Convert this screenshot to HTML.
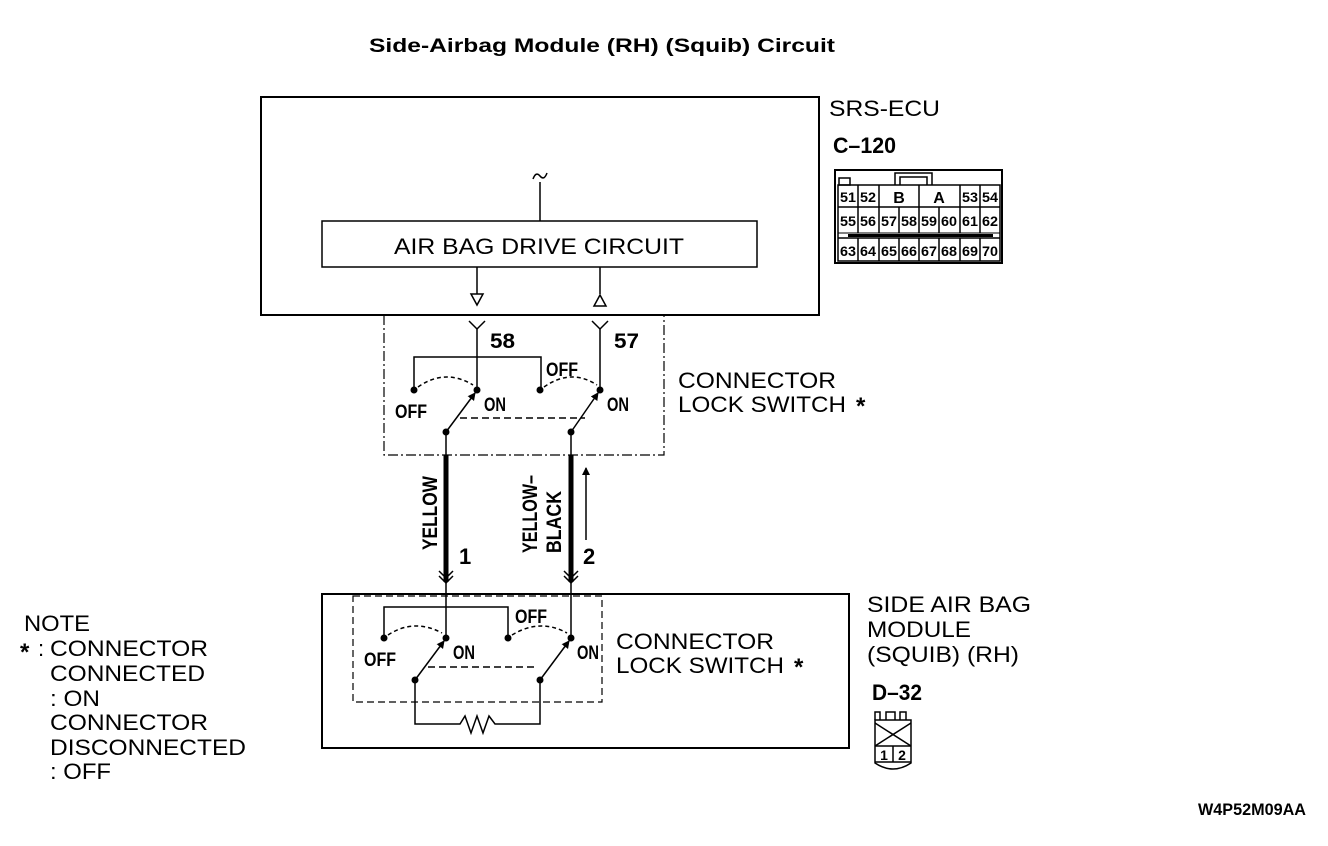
<!DOCTYPE html>
<html><head><meta charset="utf-8"><style>
html,body{margin:0;padding:0;background:#fff;}
svg{display:block;}
text{font-family:"Liberation Sans",sans-serif;fill:#000;}
.r{font-size:22px;}
.b{font-weight:bold;}
</style></head><body>
<svg width="1328" height="846" viewBox="0 0 1328 846" xmlns="http://www.w3.org/2000/svg">
<defs>
<marker id="ah" markerWidth="8" markerHeight="8" refX="7" refY="4" orient="auto" markerUnits="userSpaceOnUse"><path d="M0,0 L8,4 L0,8 Z" fill="#000"/></marker>
</defs>
<text x="602" y="52" text-anchor="middle" class="b" font-size="19" textLength="466" lengthAdjust="spacingAndGlyphs">Side-Airbag Module (RH) (Squib) Circuit</text>

<rect x="261" y="97" width="558" height="218" fill="none" stroke="#000" stroke-width="2"/>
<path d="M533,179 q3,-8 7,-3 q4,5 7,-3" fill="none" stroke="#000" stroke-width="1.5"/>
<line x1="540" y1="182" x2="540" y2="221" stroke="#000" stroke-width="1.5"/>
<rect x="322" y="221" width="435" height="46" fill="none" stroke="#000" stroke-width="1.5"/>
<text x="539" y="254" text-anchor="middle" class="r" textLength="290" lengthAdjust="spacingAndGlyphs">AIR BAG DRIVE CIRCUIT</text>
<g stroke="#000" stroke-width="1.5" fill="none">
<line x1="477" y1="267" x2="477" y2="294"/>
<path d="M471,294 L483,294 L477,305 Z"/>
<line x1="600" y1="267" x2="600" y2="294"/>
<path d="M594,306 L606,306 L600,295 Z"/>
</g>
<path d="M384,315 L384,455 L664,455 L664,315" fill="none" stroke="#000" stroke-width="1.2" stroke-dasharray="10,3,2,3"/>

<g stroke="#000" stroke-width="1.5" fill="none">
<path d="M469,321 L477,329 L485,321"/><line x1="477" y1="329" x2="477" y2="390"/>
<path d="M592,321 L600,329 L608,321"/><line x1="600" y1="329" x2="600" y2="390"/>
<path d="M414,390 L414,357 L541,357 L541,390"/>
<path d="M418,387 Q445,368 473,385" stroke-dasharray="4,3"/>
<path d="M544,387 Q571,368 597,385" stroke-dasharray="4,3"/>
<line x1="446" y1="432" x2="475" y2="393" marker-end="url(#ah)"/>
<line x1="571" y1="432" x2="598" y2="393" marker-end="url(#ah)"/>
<line x1="460" y1="418" x2="585" y2="418" stroke-dasharray="7,4"/>
<line x1="446" y1="432" x2="446" y2="455"/>
<line x1="571" y1="432" x2="571" y2="455"/>
</g>
<g fill="#000">
<circle cx="414" cy="390" r="3.5"/><circle cx="477" cy="390" r="3.5"/>
<circle cx="540" cy="390" r="3.5"/><circle cx="600" cy="390" r="3.5"/>
<circle cx="446" cy="432" r="3.5"/><circle cx="571" cy="432" r="3.5"/>
</g>
<g class="b" font-size="21">
<text x="490" y="348" textLength="25" lengthAdjust="spacingAndGlyphs">58</text>
<text x="614" y="348" textLength="25" lengthAdjust="spacingAndGlyphs">57</text>
<text x="546" y="376" font-size="19" textLength="32" lengthAdjust="spacingAndGlyphs">OFF</text>
<text x="395" y="418" font-size="19" textLength="32" lengthAdjust="spacingAndGlyphs">OFF</text>
<text x="484" y="411" font-size="19" textLength="22" lengthAdjust="spacingAndGlyphs">ON</text>
<text x="607" y="411" font-size="19" textLength="22" lengthAdjust="spacingAndGlyphs">ON</text>
</g>
<text x="678" y="388" class="r" textLength="158" lengthAdjust="spacingAndGlyphs">CONNECTOR</text>
<text x="678" y="412" class="r" textLength="168" lengthAdjust="spacingAndGlyphs">LOCK SWITCH</text>
<text x="856" y="414" class="b" font-size="24">*</text>

<line x1="446" y1="455" x2="446" y2="582" stroke="#000" stroke-width="5"/>
<line x1="571" y1="455" x2="571" y2="582" stroke="#000" stroke-width="5"/>
<g stroke="#000" stroke-width="1.5" fill="none">
<path d="M439,571 L446,578 L453,571 M439,576 L446,583 L453,576"/>
<path d="M564,571 L571,578 L578,571 M564,576 L571,583 L578,576"/>
<line x1="446" y1="582" x2="446" y2="594"/><line x1="571" y1="582" x2="571" y2="594"/>
<line x1="586" y1="540" x2="586" y2="468" marker-end="url(#ah)"/>
</g>
<text transform="translate(437,550) rotate(-90)" class="b" font-size="21" textLength="74" lengthAdjust="spacingAndGlyphs">YELLOW</text>
<text transform="translate(537,553) rotate(-90)" class="b" font-size="21" textLength="78" lengthAdjust="spacingAndGlyphs">YELLOW–</text>
<text transform="translate(561,553) rotate(-90)" class="b" font-size="21" textLength="62" lengthAdjust="spacingAndGlyphs">BLACK</text>
<text x="459" y="564" class="b" font-size="22">1</text>
<text x="583" y="564" class="b" font-size="22">2</text>

<rect x="322" y="594" width="527" height="154" fill="none" stroke="#000" stroke-width="2"/>
<rect x="353" y="596" width="249" height="106" fill="none" stroke="#000" stroke-width="1.2" stroke-dasharray="7,4"/>
<g stroke="#000" stroke-width="1.5" fill="none">
<line x1="446" y1="594" x2="446" y2="638"/>
<line x1="571" y1="594" x2="571" y2="638"/>
<path d="M384,638 L384,607 L508,607 L508,638"/>
<path d="M388,635 Q414,618 442,633" stroke-dasharray="4,3"/>
<path d="M512,635 Q540,618 567,633" stroke-dasharray="4,3"/>
<line x1="415" y1="680" x2="444" y2="641" marker-end="url(#ah)"/>
<line x1="540" y1="680" x2="569" y2="641" marker-end="url(#ah)"/>
<line x1="428" y1="667" x2="538" y2="667" stroke-dasharray="7,4"/>
<path d="M415,680 L415,724 L460,724 L465,716 L471,733 L477,716 L483,733 L489,716 L495,724 L540,724 L540,680"/>
</g>
<g fill="#000">
<circle cx="384" cy="638" r="3.5"/><circle cx="446" cy="638" r="3.5"/>
<circle cx="508" cy="638" r="3.5"/><circle cx="571" cy="638" r="3.5"/>
<circle cx="415" cy="680" r="3.5"/><circle cx="540" cy="680" r="3.5"/>
</g>
<g class="b" font-size="19">
<text x="515" y="623" textLength="32" lengthAdjust="spacingAndGlyphs">OFF</text>
<text x="364" y="666" textLength="32" lengthAdjust="spacingAndGlyphs">OFF</text>
<text x="453" y="659" textLength="22" lengthAdjust="spacingAndGlyphs">ON</text>
<text x="577" y="659" textLength="22" lengthAdjust="spacingAndGlyphs">ON</text>
</g>
<text x="616" y="649" class="r" textLength="158" lengthAdjust="spacingAndGlyphs">CONNECTOR</text>
<text x="616" y="673" class="r" textLength="168" lengthAdjust="spacingAndGlyphs">LOCK SWITCH</text>
<text x="794" y="675" class="b" font-size="24">*</text>

<text x="829" y="116" class="r" textLength="111" lengthAdjust="spacingAndGlyphs">SRS-ECU</text>
<text x="833" y="153" class="b" font-size="22" textLength="63" lengthAdjust="spacingAndGlyphs">C–120</text>
<text x="867" y="612" class="r" textLength="164" lengthAdjust="spacingAndGlyphs">SIDE AIR BAG</text>
<text x="867" y="637" class="r" textLength="104" lengthAdjust="spacingAndGlyphs">MODULE</text>
<text x="867" y="662" class="r" textLength="152" lengthAdjust="spacingAndGlyphs">(SQUIB) (RH)</text>
<text x="872" y="700" class="b" font-size="22" textLength="50" lengthAdjust="spacingAndGlyphs">D–32</text>

<g stroke="#000" fill="none" stroke-width="1.5">
<rect x="835" y="170" width="167" height="93" stroke-width="2"/>
<rect x="839" y="178" width="11" height="7"/>
<path d="M895,185 L895,173 L932,173 L932,185 M900,185 L900,177 L927,177 L927,185"/>
<rect x="838" y="185" width="162" height="76"/>
<line x1="838" y1="207" x2="1000" y2="207"/>
<line x1="838" y1="233" x2="1000" y2="233" stroke-width="1"/>
<line x1="838" y1="238" x2="1000" y2="238"/>
<path d="M858,185 V207 M879,185 V207 M919,185 V207 M960,185 V207 M980,185 V207"/>
<path d="M858,207 V233 M879,207 V233 M899,207 V233 M919,207 V233 M939,207 V233 M960,207 V233 M980,207 V233"/>
<path d="M858,238 V261 M879,238 V261 M899,238 V261 M919,238 V261 M939,238 V261 M960,238 V261 M980,238 V261"/>
</g>
<rect x="848" y="234" width="145" height="3" fill="#000"/>
<g class="b" font-size="14" text-anchor="middle">
<text x="848" y="202" textLength="16" lengthAdjust="spacingAndGlyphs">51</text>
<text x="868" y="202" textLength="16" lengthAdjust="spacingAndGlyphs">52</text>
<text x="899" y="203" font-size="16">B</text>
<text x="939" y="203" font-size="16">A</text>
<text x="970" y="202" textLength="16" lengthAdjust="spacingAndGlyphs">53</text>
<text x="990" y="202" textLength="16" lengthAdjust="spacingAndGlyphs">54</text>
<text x="848" y="226" textLength="16" lengthAdjust="spacingAndGlyphs">55</text>
<text x="868" y="226" textLength="16" lengthAdjust="spacingAndGlyphs">56</text>
<text x="889" y="226" textLength="16" lengthAdjust="spacingAndGlyphs">57</text>
<text x="909" y="226" textLength="16" lengthAdjust="spacingAndGlyphs">58</text>
<text x="929" y="226" textLength="16" lengthAdjust="spacingAndGlyphs">59</text>
<text x="949" y="226" textLength="16" lengthAdjust="spacingAndGlyphs">60</text>
<text x="970" y="226" textLength="16" lengthAdjust="spacingAndGlyphs">61</text>
<text x="990" y="226" textLength="16" lengthAdjust="spacingAndGlyphs">62</text>
<text x="848" y="256" textLength="16" lengthAdjust="spacingAndGlyphs">63</text>
<text x="868" y="256" textLength="16" lengthAdjust="spacingAndGlyphs">64</text>
<text x="889" y="256" textLength="16" lengthAdjust="spacingAndGlyphs">65</text>
<text x="909" y="256" textLength="16" lengthAdjust="spacingAndGlyphs">66</text>
<text x="929" y="256" textLength="16" lengthAdjust="spacingAndGlyphs">67</text>
<text x="949" y="256" textLength="16" lengthAdjust="spacingAndGlyphs">68</text>
<text x="970" y="256" textLength="16" lengthAdjust="spacingAndGlyphs">69</text>
<text x="990" y="256" textLength="16" lengthAdjust="spacingAndGlyphs">70</text>
</g>

<g stroke="#000" fill="none" stroke-width="1.5">
<path d="M875,720 L875,712 L880,712 L880,720 M886,720 L886,712 L895,712 L895,720 M900,720 L900,712 L906,712 L906,720"/>
<path d="M875,720 L911,720 L911,763 Q893,775 875,763 Z"/>
<line x1="875" y1="723" x2="911" y2="746"/><line x1="911" y1="723" x2="875" y2="746"/>
<line x1="875" y1="746" x2="911" y2="746"/><line x1="875" y1="762" x2="911" y2="762"/>
<line x1="893" y1="746" x2="893" y2="762"/>
</g>
<text x="884" y="760" class="b" font-size="14" text-anchor="middle">1</text>
<text x="902" y="760" class="b" font-size="14" text-anchor="middle">2</text>

<g class="r">
<text x="24" y="631" textLength="66" lengthAdjust="spacingAndGlyphs">NOTE</text>
<text x="38" y="656">:</text>
<text x="50" y="656" textLength="158" lengthAdjust="spacingAndGlyphs">CONNECTOR</text>
<text x="50" y="681" textLength="155" lengthAdjust="spacingAndGlyphs">CONNECTED</text>
<text x="50" y="706" textLength="50" lengthAdjust="spacingAndGlyphs">: ON</text>
<text x="50" y="730" textLength="158" lengthAdjust="spacingAndGlyphs">CONNECTOR</text>
<text x="50" y="755" textLength="196" lengthAdjust="spacingAndGlyphs">DISCONNECTED</text>
<text x="50" y="779" textLength="61" lengthAdjust="spacingAndGlyphs">: OFF</text>
</g>
<text x="20" y="660" class="b" font-size="24">*</text>

<text x="1198" y="815" class="b" font-size="17" textLength="108" lengthAdjust="spacingAndGlyphs">W4P52M09AA</text>
</svg>
</body></html>
